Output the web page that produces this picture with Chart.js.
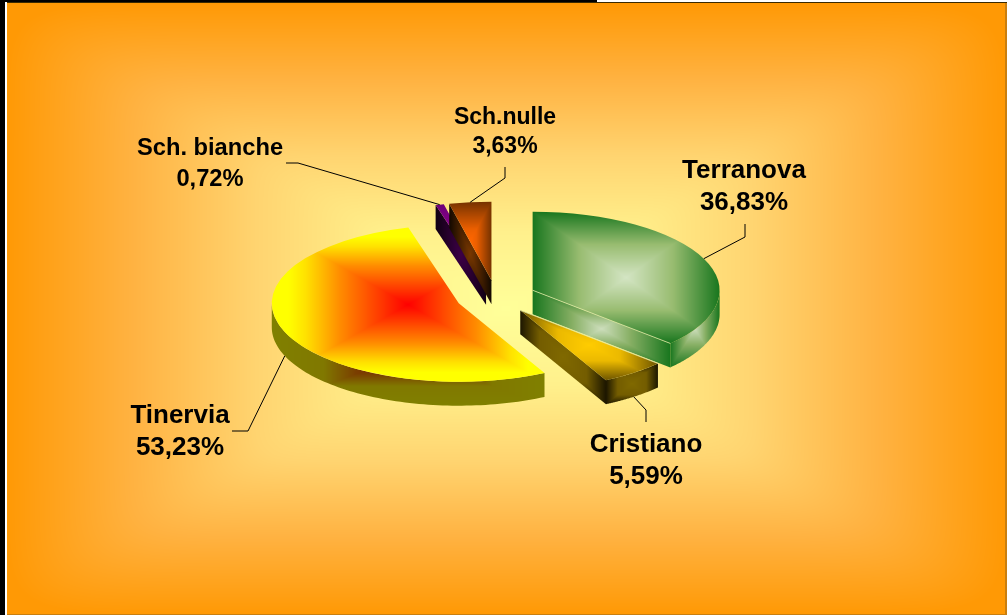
<!DOCTYPE html>
<html>
<head>
<meta charset="utf-8">
<style>html,body{margin:0;padding:0;background:#fff}canvas{display:block}</style>
<script src="https://cdn.jsdelivr.net/npm/chart.js@4/dist/chart.umd.min.js"></script>
</head>
<body>
<canvas id="c" width="1007" height="615"></canvas>
<script>
// ---- data ----
const categories = ['Terranova', 'Cristiano', 'Tinervia', 'Sch. bianche', 'Sch.nulle'];
const shares = [36.83, 5.59, 53.23, 0.72, 3.63];

// ---- style ----
const flatColors = ['#1A7A20', '#FFCC00', '#FFFF00', '#800080', '#FF6600'];
const topStops = [
  [[0,[212,229,196]],[0.5,[152,188,112]],[1,[24,118,30]]],
  [[0,[255,204,0]],[0.45,[235,185,0]],[1,[110,85,0]]],
  [[0,[255,0,0]],[0.5,[255,140,0]],[0.75,[255,225,0]],[0.88,[255,255,0]],[1,[255,255,0]]],
  [[0,[150,0,150]],[1,[110,0,120]]],
  [[0,[255,102,0]],[0.3,[235,95,0]],[1,[118,50,0]]]
];
const wallStops = [
  [[0,[205,222,188]],[0.42,[135,175,100]],[1,[24,118,30]]],
  [[0,[128,105,0]],[0.55,[115,92,0]],[1,[28,22,0]]],
  [[0,[128,20,0]],[0.38,[122,62,0]],[0.62,[128,120,0]],[1,[128,128,0]]],
  [[0,[60,0,70]],[1,[16,0,18]]],
  [[0,[120,55,0]],[1,[18,8,0]]]
];
const bgStops = [[0,[255,255,153]],[0.25,[255,240,140]],[0.5,[255,212,112]],[0.75,[255,178,65]],[1,[255,153,5]]];
const edgeLight = ['end', 'start', null, null, null];
const TILT = 0.42, DEPTH = 24, EXPLODE = 40, RADIUS = 187;
const FONT = '"Liberation Sans", Arial, sans-serif';
const labelPos = [[744,178,26,32],[646,452,26,32],[180,423,26,32],[210,155,23.7,31],[505,124,23,29]];
const leaderBend = [[[745,237],[745,224]],[[646,410],[646,422]],[[248,431],[232,431]],[[298,163],[286,163]],[[505,178],[505,167]]];

function lookup(stops,t){
  for(let i=1;i<stops.length;i++){
    if(t<=stops[i][0]){
      const a=stops[i-1],b=stops[i],f=(t-a[0])/(b[0]-a[0]||1);
      return a[1].map((v,k)=>v+(b[1][k]-v)*f);
    }
  }
  return stops[stops.length-1][1];
}
// soft > 0 rounds the box corners with a p-norm (used for the backdrop)
function boxCanvas(x0,y0,x1,y1,stops,soft){
  const pad=2, X=Math.floor(x0)-pad, Y=Math.floor(y0)-pad;
  const w=Math.ceil(x1)+pad-X, h=Math.ceil(y1)+pad-Y;
  const cv=document.createElement('canvas');cv.width=w;cv.height=h;
  const g=cv.getContext('2d'),im=g.createImageData(w,h);
  const cx=(x0+x1)/2,cy=(y0+y1)/2,hw=Math.max((x1-x0)/2,1),hh=Math.max((y1-y0)/2,1);
  for(let j=0;j<h;j++)for(let i=0;i<w;i++){
    const tx=Math.abs(X+i+.5-cx)/hw,ty=Math.abs(Y+j+.5-cy)/hh;
    const t=Math.min(1,soft?Math.pow(Math.pow(tx,soft)+Math.pow(ty,soft),1/soft):Math.max(tx,ty));
    const c=lookup(stops,t),p=(j*w+i)*4;
    im.data[p]=c[0];im.data[p+1]=c[1];im.data[p+2]=c[2];im.data[p+3]=255;
  }
  g.putImageData(im,0,0);
  return {cv,X,Y};
}
function boxPattern(ctx,bb,stops){
  const b=boxCanvas(bb[0],bb[1],bb[2],bb[3],stops);
  const p=ctx.createPattern(b.cv,'no-repeat');
  p.setTransform(ctx.getTransform().inverse().translate(b.X,b.Y));
  return p;
}
function bboxOf(pts){
  const xs=pts.map(p=>p[0]),ys=pts.map(p=>p[1]);
  return [Math.min(...xs),Math.min(...ys),Math.max(...xs),Math.max(...ys)];
}
function geom(arc){
  const g=arc.getProps(['x','y','startAngle','endAngle','outerRadius'],true);
  const h=(g.startAngle+g.endAngle)/2;
  const px=g.x+EXPLODE*Math.cos(h),py=g.y+EXPLODE*Math.sin(h)*TILT;
  const at=a=>[px+g.outerRadius*Math.cos(a),py+g.outerRadius*Math.sin(a)*TILT];
  return {...g,h,px,py,at};
}
// angles spanned by a slice that fall on extreme points of the ellipse
function extremes(g){
  const out=[];
  for(let k=-2;k<=8;k++){const a=k*Math.PI/2;if(a>g.startAngle&&a<g.endAngle)out.push(a);}
  return out;
}
const pie3d={
  id:'pie3d',
  beforeDraw(chart){
    const ctx=chart.ctx,W=chart.width,H=chart.height;
    const bg=boxCanvas(7,3,1005,614,bgStops,14);
    ctx.save();
    ctx.fillStyle='#fff';ctx.fillRect(0,0,W,H);
    ctx.drawImage(bg.cv,bg.X,bg.Y);
    ctx.fillStyle='#fff';ctx.fillRect(0,0,W,2);ctx.fillRect(5,0,2,H);
    ctx.fillStyle='#000';ctx.fillRect(0,0,5,H);ctx.fillRect(0,0,597,2);
    ctx.fillStyle='#3a2a00';ctx.fillRect(7,2,W-7,1);
    ctx.fillStyle='#c97f10';ctx.fillRect(1005,3,2,H-3);ctx.fillRect(7,H-1,W-7,1);
    ctx.restore();
  },
  beforeDatasetsDraw(chart){
    const ctx=chart.ctx,arcs=chart.getDatasetMeta(0).data;
    const order=[3,4,2,0,1];
    order.forEach(i=>{
      const arc=arcs[i],g=geom(arc),a1=g.startAngle,a2=g.endAngle;
      // cut walls
      const cuts=[];
      if(Math.cos(a1)<-1e-6)cuts.push(a1);
      if(Math.cos(a2)>1e-6)cuts.push(a2);
      cuts.forEach(a=>{
        const o=g.at(a),pts=[[g.px,g.py],o,[o[0],o[1]+DEPTH],[g.px,g.py+DEPTH]];
        ctx.fillStyle=boxPattern(ctx,bboxOf(pts),wallStops[i]);
        ctx.beginPath();pts.forEach((p,k)=>k?ctx.lineTo(p[0],p[1]):ctx.moveTo(p[0],p[1]));
        ctx.closePath();ctx.fill();
      });
      // outer wall: part of the rim on the near side of the ellipse
      const lo=Math.max(a1,0),hi=Math.min(a2,Math.PI);
      if(hi>lo){
        const pts=[];const n=80;
        for(let k=0;k<=n;k++)pts.push(g.at(lo+(hi-lo)*k/n));
        const low=pts.slice().reverse().map(p=>[p[0],p[1]+DEPTH]);
        const all=pts.concat(low);
        ctx.fillStyle=boxPattern(ctx,bboxOf(all),wallStops[i]);
        ctx.beginPath();all.forEach((p,k)=>k?ctx.lineTo(p[0],p[1]):ctx.moveTo(p[0],p[1]));
        ctx.closePath();ctx.fill();
      }
      // top face
      const facePts=[[g.px,g.py],g.at(a1),g.at(a2)].concat(extremes(g).map(g.at));
      ctx.save();
      ctx.translate(g.px,g.py);ctx.scale(1,TILT);ctx.translate(-g.x,-g.y);
      const pat=boxPattern(ctx,bboxOf(facePts),topStops[i]);
      arc.options=Object.assign({},arc.options,{backgroundColor:pat,borderWidth:0});
      arc.draw(ctx);
      ctx.restore();
      // thin lit edge
      if(edgeLight[i]){
        const o=g.at(edgeLight[i]==='end'?a2:a1);
        ctx.save();ctx.strokeStyle='rgba(225,235,170,.75)';ctx.lineWidth=1;
        ctx.beginPath();ctx.moveTo(g.px,g.py);ctx.lineTo(o[0],o[1]);ctx.stroke();ctx.restore();
      }
    });
    return false;
  },
  afterDraw(chart){
    const ctx=chart.ctx,arcs=chart.getDatasetMeta(0).data;
    ctx.save();
    arcs.forEach((arc,i)=>{
      const g=geom(arc),s=g.at(g.h);
      const y0=Math.sin(g.h)>0?s[1]+DEPTH:s[1];
      ctx.strokeStyle='#000';ctx.lineWidth=1;
      ctx.beginPath();ctx.moveTo(s[0],y0);
      leaderBend[i].forEach(p=>ctx.lineTo(p[0],p[1]));ctx.stroke();
      const [lx,ly,fs,gap]=labelPos[i];
      ctx.fillStyle='#000';ctx.textAlign='center';ctx.textBaseline='alphabetic';
      ctx.font='bold '+fs+'px '+FONT;
      ctx.fillText(categories[i],lx,ly);
      ctx.fillText(shares[i].toFixed(2).replace('.',',')+'%',lx,ly+gap);
    });
    ctx.restore();
  }
};
new Chart(document.getElementById('c'),{
  type:'pie',
  data:{labels:categories,datasets:[{data:shares,backgroundColor:flatColors,borderWidth:0}]},
  options:{
    responsive:false,animation:false,radius:RADIUS,rotation:0,
    layout:{padding:{left:0,right:15,top:0,bottom:21}},
    plugins:{legend:{display:false},tooltip:{enabled:false}}
  },
  plugins:[pie3d]
});
</script>
</body>
</html>
